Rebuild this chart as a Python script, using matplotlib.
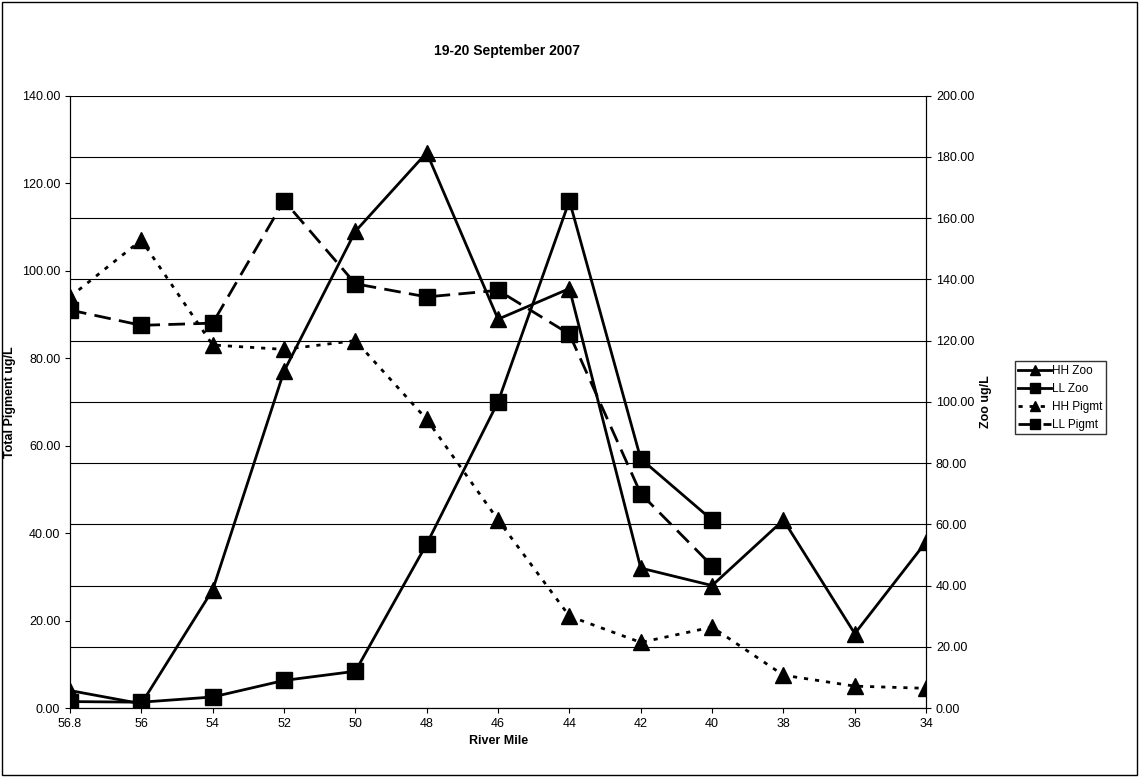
import matplotlib.pyplot as plt
import numpy as np
from matplotlib.lines import Line2D

miles = ["56.8", "56", "54", "52", "50", "48", "46", "44", "42", "40", "38", "36", "34"]
hh_zoo = [5.7, 1.4, 38.6, 110.0, 155.7, 181.4, 127.0, 137.0, 45.7, 40.0, 61.4, 24.3, 54.3]
ll_zoo = [2.1, 1.9, 3.6, 9.0, 12.0, 53.6, 100.0, 165.7, 81.4, 61.4]
hh_pig = [94.0, 107.0, 83.0, 82.0, 84.0, 66.0, 43.0, 21.0, 15.0, 18.5, 7.5, 5.0, 4.5]
ll_pig = [91.0, 87.5, 88.0, 116.0, 97.0, 94.0, 95.5, 85.5, 49.0, 32.5]

plt.rcParams['font.family'] = ['Liberation Sans', 'DejaVu Sans']
fig = plt.figure(figsize=(11.4, 7.77), dpi=100)
fig.patches.append(plt.Rectangle((0.002, 0.003), 0.995, 0.994, transform=fig.transFigure,
                                 fill=False, edgecolor='black', lw=1))
ax = fig.add_axes([0.0614, 0.0888, 0.751, 0.788])
ax2 = ax.twinx()
x = np.arange(len(miles))

ax.plot(x[:len(hh_pig)], hh_pig, color='black', lw=2, ls=(0, (1.5, 2.5)), marker='^', ms=11)
ax.plot(x[:len(ll_pig)], ll_pig, color='black', lw=2, ls=(0, (6, 3)), marker='s', ms=11)
ax2.plot(x[:len(hh_zoo)], hh_zoo, color='black', lw=2, marker='^', ms=11)
ax2.plot(x[:len(ll_zoo)], ll_zoo, color='black', lw=2, marker='s', ms=11)

for a in (ax, ax2):
    a.spines['top'].set_visible(False)
ax.set_xlim(0, len(miles) - 1)
ax.set_ylim(0, 140)
ax2.set_ylim(0, 200)
ax.set_xticks(x)
ax.set_xticklabels(miles, fontsize=9)
ax.set_yticks(np.arange(0, 141, 20))
ax.set_yticklabels([f"{v:.2f}" for v in range(0, 141, 20)], fontsize=9)
ax2.set_yticks(np.arange(0, 201, 20))
ax2.set_yticklabels([f"{v:.2f}" for v in range(0, 201, 20)], fontsize=9)
ax2.grid(axis='y', color='black', lw=0.8)
ax2.set_axisbelow(True)
ax.set_xlabel("River Mile", fontsize=9, fontweight='bold')
ax.set_ylabel("Total Pigment ug/L", fontsize=9, fontweight='bold')
ax2.set_ylabel("Zoo ug/L", fontsize=9, fontweight='bold')
fig.text(0.445, 0.935, "19-20 September 2007", ha='center', va='center', fontsize=10, fontweight='bold')

handles = [Line2D([], [], color='black', lw=2, marker='^', ms=7),
           Line2D([], [], color='black', lw=2, marker='s', ms=7),
           Line2D([], [], color='black', lw=2, ls=(0, (1.5, 2.5)), marker='^', ms=7),
           Line2D([], [], color='black', lw=2, ls=(0, (6, 3)), marker='s', ms=7)]
fig.legend(handles, ["HH Zoo", "LL Zoo", "HH Pigmt", "LL Pigmt"], loc='center left',
           bbox_to_anchor=(0.890, 0.488), fontsize=8.5, frameon=True, fancybox=False,
           edgecolor='black', handlelength=2.8, handletextpad=0.1, borderpad=0.3,
           labelspacing=0.5, borderaxespad=0)

fig.savefig("out.png", dpi=100)
